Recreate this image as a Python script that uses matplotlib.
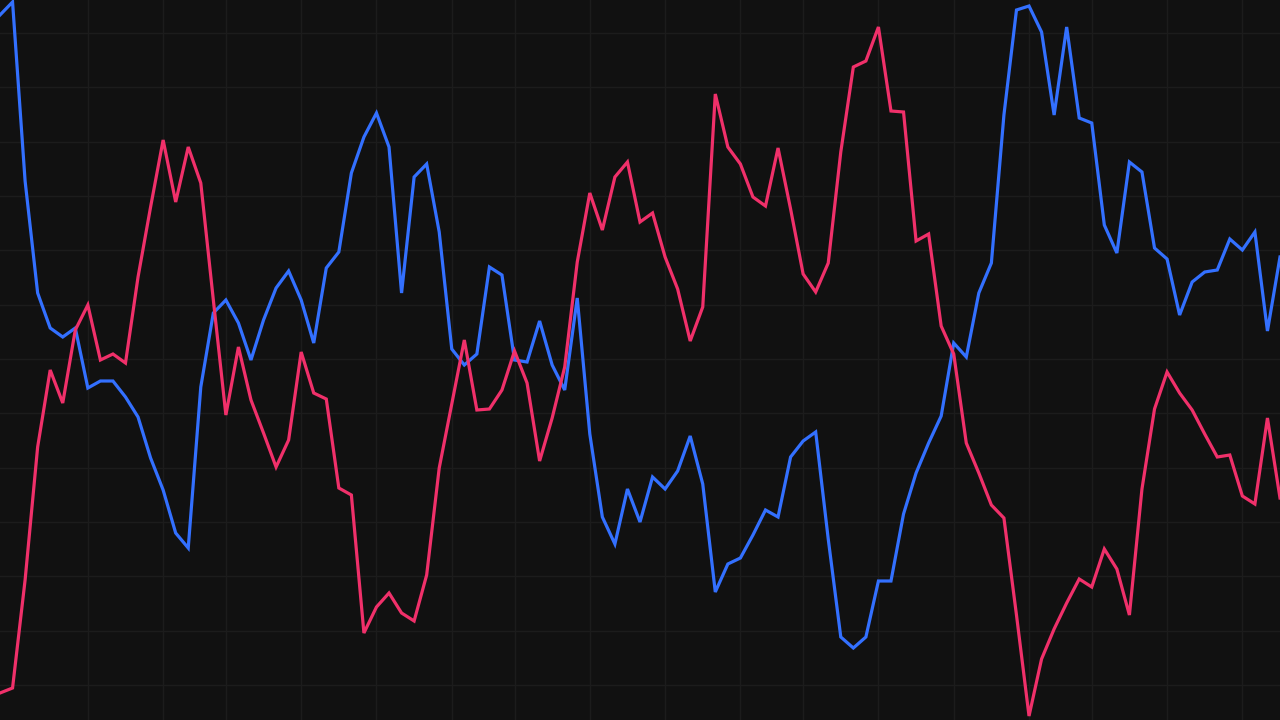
import matplotlib
matplotlib.use("Agg")
import matplotlib.pyplot as plt
import numpy as np

# x positions: 103 samples
x = list(range(103))

blue = [705, 718, 539, 427, 392, 383, 392, 332, 339, 339, 323, 303, 262, 230, 187, 172,
        333, 407, 420, 397, 360, 400, 432, 449, 420, 377, 452, 468, 547, 583, 607, 573,
        427, 543, 556, 488, 371, 355, 366, 453, 445, 360, 358, 399, 355, 330, 422, 286,
        203, 176, 231, 198, 243, 231, 249, 284, 236, 128, 156, 162, 185, 210, 203, 263,
        279, 288, 181, 83, 72, 83, 139, 139, 206, 247, 277, 304, 377, 363, 427, 457,
        605, 710, 714, 688, 605, 693, 602, 597, 495, 467, 558, 548, 472, 461, 405, 438,
        448, 450, 481, 470, 488, 389, 463]

red = [27, 32, 140, 273, 350, 317, 390, 415, 360, 366, 357, 443, 513, 580, 518, 573,
       537, 420, 305, 373, 320, 287, 253, 280, 368, 327, 321, 232, 225, 87, 113, 127,
       107, 99, 145, 252, 316, 380, 310, 311, 330, 369, 337, 259, 302, 353, 458, 527,
       490, 543, 558, 498, 507, 463, 431, 379, 413, 626, 573, 556, 523, 514, 572, 511,
       446, 428, 457, 568, 653, 659, 693, 609, 608, 479, 486, 394, 366, 277, 247, 215,
       202, 105, 4, 61, 91, 117, 141, 133, 171, 151, 105, 231, 311, 348, 327, 310,
       286, 263, 265, 224, 216, 302, 222]

v_grid = [7, 13, 18, 24, 30, 36, 41, 47, 53, 59, 64, 70, 76, 82, 87, 93, 99]
h_grid = list(np.linspace(35, 687, 13))

BG = "#111111"
fig = plt.figure(figsize=(12.8, 7.2), dpi=100, facecolor=BG)
ax = fig.add_axes([0, 0, 1, 1])
ax.set_facecolor(BG)

for gx in v_grid:
    ax.axvline(gx, color="#1c1c1c", lw=1.0, zorder=0)
for gy in h_grid:
    ax.axhline(gy, color="#1c1c1c", lw=1.0, zorder=0)

ax.plot(x, blue, color="#3370ff", lw=2.3, solid_joinstyle="miter", zorder=3)
ax.plot(x, red, color="#f0306a", lw=2.3, solid_joinstyle="miter", zorder=3)

ax.set_xlim(0, 102)
ax.set_ylim(0, 720)
ax.axis("off")

fig.savefig("out.png", dpi=100, facecolor=BG)
